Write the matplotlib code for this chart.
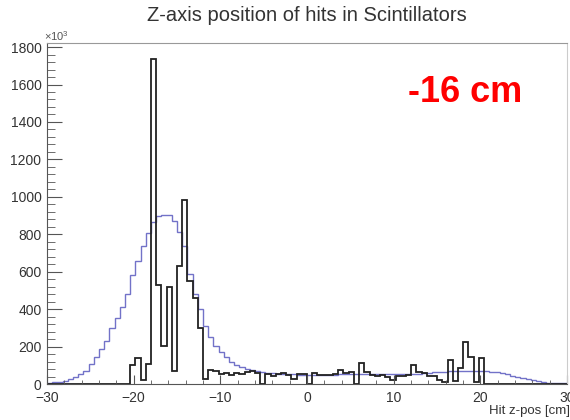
import numpy as np
import matplotlib
matplotlib.use("Agg")
from matplotlib import pyplot as plt
from matplotlib.ticker import MultipleLocator

plt.rcParams["font.family"] = ["Liberation Sans", "DejaVu Sans"]
plt.rcParams["mathtext.fontset"] = "custom"
plt.rcParams["mathtext.rm"] = "Liberation Sans"
plt.rcParams["axes.unicode_minus"] = True

# 100 bins, 0.6 cm wide, from -30 to 30 cm (counts in units of 10^3)
bin_edges = np.linspace(-30, 30, 101)

# blue reference histogram
blue_counts = [
    6, 9, 13, 18, 25, 40, 52, 70, 105, 145,
    185, 230, 300, 355, 410, 480, 580, 655, 735, 805,
    865, 898, 905, 905, 870, 810, 735, 590, 480, 400,
    310, 250, 205, 170, 142, 120, 104, 92, 82, 75,
    69, 64, 60, 57, 55, 53, 52, 51, 50, 50,
    50, 50, 50, 50, 50, 50, 51, 51, 52, 52,
    52, 53, 53, 53, 54, 54, 54, 54, 55, 55,
    55, 56, 58, 60, 62, 64, 66, 68, 70, 71,
    71, 70, 70, 69, 68, 66, 63, 58, 52, 45,
    38, 31, 25, 19, 14, 10, 7, 5, 4, 3,
]

# black measured histogram
black_counts = [
    0, 0, 0, 0, 0, 0, 0, 0, 0, 0,
    0, 0, 0, 0, 0, 0, 100, 138, 22, 105,
    1735, 530, 205, 520, 70, 630, 985, 550, 460, 300,
    25, 75, 72, 55, 60, 48, 60, 54, 66, 71,
    60, 0, 52, 43, 54, 58, 50, 25, 53, 55,
    0, 60, 48, 50, 48, 52, 75, 58, 66, 0,
    111, 66, 50, 45, 48, 40, 21, 42, 45, 50,
    100, 66, 60, 45, 43, 20, 12, 128, 15, 84,
    227, 146, 12, 137, 0, 0, 0, 0, 0, 0,
    0, 0, 0, 0, 0, 0, 0, 0, 0, 0,
]

title = "Z-axis position of hits in Scintillators"
xlabel = "Hit z-pos [cm]"
note = "-16 cm"

fig = plt.figure(figsize=(5.7, 4.2), dpi=100)
ax = fig.add_axes([0.0825, 0.0857, 0.9125, 0.812])

ax.stairs(blue_counts, bin_edges, color="#7272c8", linewidth=1.0)
ax.stairs(black_counts, bin_edges, color="#222222", linewidth=1.3)

ax.set_xlim(-30, 30)
ax.set_ylim(0, 1822)

ax.xaxis.set_major_locator(MultipleLocator(10))
ax.xaxis.set_minor_locator(MultipleLocator(2))
ax.yaxis.set_major_locator(MultipleLocator(200))
ax.yaxis.set_minor_locator(MultipleLocator(40))

ax.tick_params(axis="both", which="both", direction="in", colors="#555555",
               labelcolor="#333333", labelsize=10)
ax.tick_params(axis="y", which="major", length=10.5, pad=4)
ax.tick_params(axis="y", which="minor", length=5.5)
ax.tick_params(axis="x", which="major", length=6.5, pad=5)
ax.tick_params(axis="x", which="minor", length=3.2)
ax.tick_params(top=False, right=False)

for side in ["left", "bottom"]:
    ax.spines[side].set_color("#555555")
ax.spines["top"].set_color("#999999")
ax.spines["right"].set_color("#cccccc")

ax.text(-0.005, 1.0, r"$\times10^{3}$", transform=ax.transAxes, ha="left",
        va="bottom", fontsize=8, color="#555555")
fig.text(0.539, 0.963, title, ha="center", va="center", fontsize=14.5,
         color="#333333")
fig.text(1.0, 0.022, xlabel, ha="right", va="center", fontsize=9.5,
         color="#333333")
ax.text(0.804, 0.856, note, transform=ax.transAxes, ha="center", va="center",
        fontsize=26, fontweight="bold", color="#ff0000")

fig.savefig("out.png", dpi=100)
